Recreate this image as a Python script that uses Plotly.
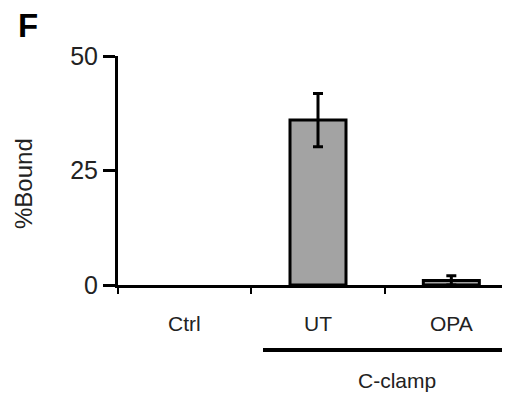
import plotly.graph_objects as go

categories = ["Ctrl", "UT", "OPA"]
values = [0.0, 36.0, 1.0]
errors = [0.0, 5.8, 1.0]
y_ticks = [0, 25, 50]
group_label = "C-clamp"
panel_label = "F"
y_title = "%Bound"

FONT = "Liberation Sans, Arial, sans-serif"

# page has an 8px body margin; plot area in page pixels: x 118..510, y 56..285
PX0, PX1, PY0, PY1 = 118, 510, 56, 285


def px(xp):
    return (xp - PX0) / (PX1 - PX0)


def py(yp):
    return (PY1 - yp) / (PY1 - PY0)


# a zero-valued bar draws nothing in the reference
shown_y = [v if v != 0 else None for v in values]

fig = go.Figure()
fig.add_trace(go.Bar(
    x=categories, y=shown_y,
    width=0.42,
    marker=dict(color="#a3a3a3", line=dict(color="black", width=3)),
    error_y=dict(type="data", array=errors, visible=True, color="black",
                 thickness=3, width=5),
))

fig.update_layout(
    width=502, height=385,
    margin=dict(l=PX0 - 8, r=0, t=PY0 - 8, b=393 - PY1),
    paper_bgcolor="white", plot_bgcolor="white",
    showlegend=False,
    xaxis=dict(
        type="category", categoryorder="array", categoryarray=categories,
        range=[-0.5, 2.44],
        showline=True, linecolor="black", linewidth=3,
        ticks="outside", tickson="boundaries", ticklen=6, tickwidth=2,
        tickcolor="black", showticklabels=False, showgrid=False,
        zeroline=False,
    ),
    yaxis=dict(
        range=[0, 50], tickvals=y_ticks, ticktext=[str(v) for v in y_ticks],
        showline=True, linecolor="black", linewidth=3,
        ticks="outside", ticklen=12, tickwidth=3, tickcolor="black",
        tickfont=dict(family=FONT, size=25, color="#222"),
        showgrid=False, zeroline=False,
    ),
    font=dict(family=FONT, color="black"),
)

for c in categories:
    fig.add_annotation(x=c, xref="x", y=py(323), yref="paper", text=c,
                       showarrow=False, font=dict(family=FONT, size=21, color="#222"),
                       xanchor="center", yanchor="middle")

# group bracket line under UT/OPA
fig.add_shape(type="line", xref="paper", yref="paper", x0=px(263), x1=px(520),
              y0=py(350), y1=py(350), line=dict(color="black", width=4))
fig.add_annotation(x=px(397), xref="paper", y=py(380), yref="paper", text=group_label,
                   showarrow=False, font=dict(family=FONT, size=21, color="#222"),
                   xanchor="center", yanchor="middle")

# y axis title
fig.add_annotation(x=px(23), xref="paper", y=py(184), yref="paper", text=y_title,
                   showarrow=False, textangle=-90,
                   font=dict(family=FONT, size=24, color="#222"),
                   xanchor="center", yanchor="middle")

# panel label
fig.add_annotation(x=px(28), xref="paper", y=py(25), yref="paper",
                   text="<b>" + panel_label + "</b>", showarrow=False,
                   font=dict(family=FONT, size=33, color="black"),
                   xanchor="center", yanchor="middle")

fig.write_html("out.html")
